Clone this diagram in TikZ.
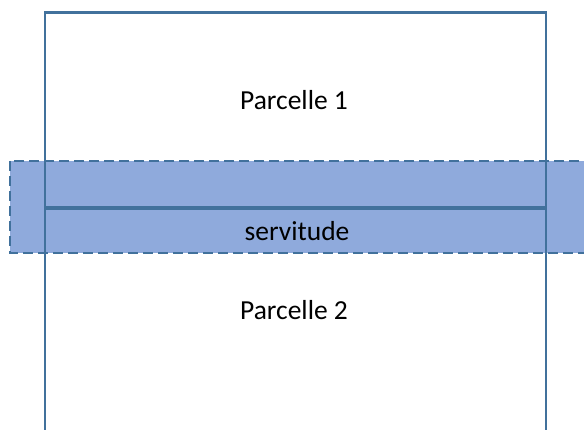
\documentclass[tikz,border=0pt]{standalone}
\usepackage{fontspec}
\setmainfont{Carlito}
\definecolor{edgeblue}{HTML}{41719C}
\definecolor{bandblue}{HTML}{8FAADC}
\begin{document}
\begin{tikzpicture}[x=1pt,y=-1pt,
  lbl/.style={font=\fontsize{27.5}{32}\selectfont, text=black, inner sep=0pt},
  parcel/.style={draw=edgeblue, line width=2.6pt},
  bandbox/.style={fill=bandblue, draw=edgeblue, line width=2.6pt, dash pattern=on 10pt off 5pt}]
\useasboundingbox (0,0) rectangle (584,430);
\path[bandbox] (10,161) rectangle (600,253);
\path[parcel] (45,445) -- (45,12.5) -- (546,12.5) -- (546,445);
\coordinate (ml) at (45,208);
\coordinate (mr) at (546,208);
\draw[edgeblue, line width=3.6pt] (ml) -- (mr);
\node[lbl] (p1) at (294,100) {Parcelle 1};
\node[lbl] (sv) at (297,231) {servitude};
\node[lbl] (p2) at (294,310) {Parcelle 2};
\end{tikzpicture}
\end{document}
